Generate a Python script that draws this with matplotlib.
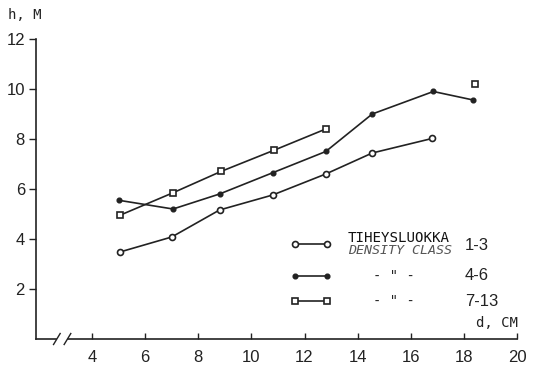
import matplotlib.pyplot as plt

# diameter class midpoints (cm) and mean heights (m) per density class
d_13 = [5.05, 7.0, 8.8, 10.8, 12.8, 14.55, 16.8]
h_13 = [3.48, 4.08, 5.16, 5.76, 6.6, 7.44, 8.02]

d_46 = [5.0, 7.05, 8.8, 10.8, 12.8, 14.55, 16.85, 18.35]
h_46 = [5.55, 5.2, 5.8, 6.65, 7.5, 9.0, 9.9, 9.56]

d_713 = [5.05, 7.05, 8.85, 10.85, 12.8]
h_713 = [4.95, 5.85, 6.7, 7.55, 8.4]
d_713_extra = [18.4]
h_713_extra = [10.2]

x_ticks = [4, 6, 8, 10, 12, 14, 16, 18, 20]
y_ticks = [2, 4, 6, 8, 10, 12]
classes = ["1-3", "4-6", "7-13"]

ink = "#222222"
mono = "DejaVu Sans Mono"
sans = "Liberation Sans"

fig = plt.figure(figsize=(5.35, 3.70), dpi=100)
ax = fig.add_axes([36 / 535, 1 - 339 / 370, 481 / 535, 300 / 370])
ax.set_xlim(1.89, 20)
ax.set_ylim(0, 12)

kw = dict(color=ink, lw=1.2)
ax.plot(d_13, h_13, marker="o", ms=4.3, mfc="white", mec=ink, mew=1.2, **kw)
ax.plot(d_46, h_46, marker="o", ms=3.4, mfc=ink, mec=ink, **kw)
ax.plot(d_713, h_713, marker="s", ms=4.0, mfc="white", mec=ink, mew=1.2, **kw)
ax.plot(d_713_extra, h_713_extra, ls="none", marker="s", ms=4.0, mfc="white", mec=ink, mew=1.2)

for s in ["top", "right", "bottom"]:
    ax.spines[s].set_visible(False)
ax.spines["left"].set_color(ink)
ax.spines["left"].set_linewidth(1.2)

# x axis drawn by hand to leave room for the break mark
ax.plot([1.89, 2.65], [0, 0], color=ink, lw=1.2, clip_on=False)
ax.plot([3.1, 20], [0, 0], color=ink, lw=1.2, clip_on=False)
ax.plot([2.55, 2.8], [-0.22, 0.22], color=ink, lw=1.0, clip_on=False)
ax.plot([2.95, 3.2], [-0.22, 0.22], color=ink, lw=1.0, clip_on=False)

ax.set_xticks(x_ticks)
ax.set_yticks(y_ticks)
ax.tick_params(axis="x", direction="in", length=4, width=1, color=ink, pad=8,
               labelsize=12, labelcolor=ink)
ax.tick_params(axis="y", direction="out", length=5, width=1, color=ink, pad=3,
               labelsize=12, labelcolor=ink)
for lab in ax.get_xticklabels() + ax.get_yticklabels():
    lab.set_fontfamily(sans)

fig.text(8 / 535, 1 - 15 / 370, "h, M", family=mono, fontsize=10, color=ink, va="center")
fig.text(518 / 535, 1 - 323 / 370, "d, CM", family=mono, fontsize=10, color=ink,
         va="center", ha="right")

# legend drawn by hand in figure pixels
def fx(px):
    return px / 535

def fy(py):
    return 1 - py / 370

rows = [244, 276, 301]
styles = [dict(marker="o", ms=4.3, mfc="white", mew=1.2),
          dict(marker="o", ms=3.4, mfc=ink),
          dict(marker="s", ms=4.0, mfc="white", mew=1.2)]
for r, st in zip(rows, styles):
    fig.add_artist(plt.Line2D([fx(295), fx(327)], [fy(r), fy(r)], color=ink, lw=1.2,
                              mec=ink, markevery=[0, 1], **st))

fig.text(fx(348), fy(238), "TIHEYSLUOKKA", family=mono, fontsize=10.2, color="#111111",
         va="center")
fig.text(fx(348), fy(250), "DENSITY CLASS", family=mono, fontsize=9.6, color="#555555",
         va="center", style="italic")
fig.text(fx(394), fy(276), '- " -', family=mono, fontsize=10, color=ink, va="center", ha="center")
fig.text(fx(394), fy(301), '- " -', family=mono, fontsize=10, color=ink, va="center", ha="center")
for r, c in zip([245, 275, 302], classes):
    fig.text(fx(465), fy(r), c, family=sans, fontsize=12, color=ink, va="center")

fig.savefig("out.png", dpi=100)
